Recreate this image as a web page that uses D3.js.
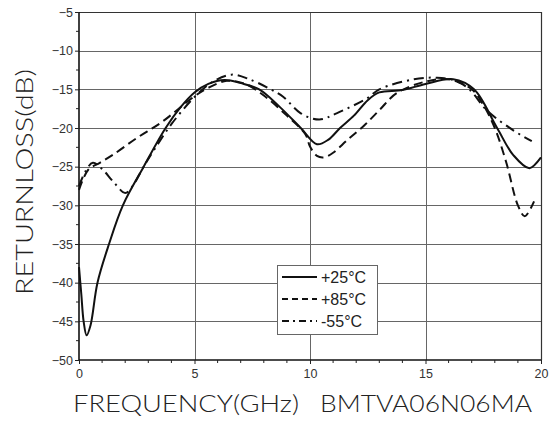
<!DOCTYPE html>
<html>
<head>
<meta charset="utf-8">
<script src="https://cdn.jsdelivr.net/npm/d3@7"></script>
<style>
  html, body { margin: 0; padding: 0; background: #fff; }
  svg { display: block; }
</style>
</head>
<body>
<svg id="chart" width="558" height="430"></svg>
<script>
// Return loss vs frequency at three temperatures
const freq25 = [0, 0.1, 0.2, 0.33, 0.5, 0.8, 1.3, 1.9, 2.8, 3.75, 4.4, 5, 5.6, 6.3, 7, 7.8, 8.7, 9.6, 10.3, 10.8, 11.3, 11.9, 12.5, 13, 14, 15, 16.2, 17.1, 18.1, 18.8, 19.5, 20];
const rl25   = [-38, -41.5, -45, -46.8, -45.5, -40, -35, -30, -25, -20, -17.3, -15.4, -14.3, -13.8, -14.2, -15, -17.3, -20, -22.1, -21.5, -20, -18.4, -16.4, -15.4, -15.1, -14.3, -13.7, -15, -20, -23.5, -25.2, -23.8];

const freq85 = [0, 0.4, 0.9, 1.5, 2.5, 3.6, 4.95, 5.6, 6.4, 7.2, 8, 9, 9.8, 10, 10.3, 10.6, 11, 11.6, 12.3, 13, 13.75, 15, 16, 17, 17.5, 18, 18.5, 19, 19.3, 19.7];
const rl85   = [-28, -25.4, -24.5, -23.4, -21.3, -19.2, -16, -14.8, -13.9, -14.3, -15.8, -18.4, -20.8, -22.4, -23.6, -23.8, -23.2, -21.6, -19.8, -17.7, -15.5, -14.0, -13.7, -15, -17, -20, -24.5, -30, -31.4, -29.5];

const freq55 = [0, 0.3, 0.6, 1.0, 1.5, 2.0, 2.3, 2.8, 3.3, 4, 5, 5.8, 6.6, 7.3, 8.3, 8.85, 9.6, 10.4, 11.15, 12.5, 13, 14.5, 15.5, 16.3, 16.9, 17.65, 18.8, 19.6];
const rl55   = [-27.5, -25.5, -24.5, -25.3, -27, -28.4, -27.6, -25, -22.6, -19.5, -16, -14, -13.1, -13.6, -15, -16, -18.1, -18.9, -18.1, -16.1, -15, -13.7, -13.5, -13.9, -15, -17.7, -20.3, -21.7];

const legendLabels = ["+25°C", "+85°C", "-55°C"];
const xTicks = [0, 5, 10, 15, 20];
const yTicks = [-5, -10, -15, -20, -25, -30, -35, -40, -45, -50];

const svg = d3.select("#chart");
const mLeft = 79, mRight = 541, mTop = 12, mBottom = 360;

const x = d3.scaleLinear().domain([0, 20]).range([mLeft, mRight]);
const y = d3.scaleLinear().domain([-50, -5]).range([mBottom, mTop]);

// grid
const grid = svg.append("g").attr("stroke", "#666").attr("stroke-width", 1);
grid.selectAll("line.v").data(xTicks.filter(d => d > 0 && d < 20)).join("line")
  .attr("x1", d => Math.round(x(d)) + 0.5).attr("x2", d => Math.round(x(d)) + 0.5)
  .attr("y1", mTop).attr("y2", mBottom);
grid.selectAll("line.h").data(yTicks.filter(d => d > -50 && d < -5)).join("line")
  .attr("y1", d => Math.round(y(d)) + 0.5).attr("y2", d => Math.round(y(d)) + 0.5)
  .attr("x1", mLeft).attr("x2", mRight);

// frame (top and right)
svg.append("path")
  .attr("d", `M${mLeft},${mTop + 0.5}H${mRight + 0.5}V${mBottom}`)
  .attr("fill", "none").attr("stroke", "#333").attr("stroke-width", 1.2);

// axes
const xAxis = d3.axisBottom(x).tickValues(xTicks).tickSize(4).tickPadding(5).tickFormat(d3.format("d"));
const yAxis = d3.axisLeft(y).tickValues(yTicks).tickSize(4).tickPadding(2).tickFormat(d3.format("d"));

const gx = svg.append("g").attr("transform", `translate(0,${mBottom})`).call(xAxis);
const gy = svg.append("g").attr("transform", `translate(${mLeft},0)`).call(yAxis);

// minor ticks
const xMinor = d3.range(1, 20).filter(d => d % 5 !== 0);
gx.selectAll("line.minor").data(xMinor).join("line").attr("class", "minor")
  .attr("x1", d => x(d)).attr("x2", d => x(d)).attr("y1", 0).attr("y2", 3)
  .attr("stroke", "#222");
const yMinor = d3.range(-47.5, -5, 5);
gy.selectAll("line.minor").data(yMinor).join("line").attr("class", "minor")
  .attr("y1", d => y(d)).attr("y2", d => y(d)).attr("x1", 0).attr("x2", -3)
  .attr("stroke", "#222");

[gx, gy].forEach(g => {
  g.select(".domain").attr("stroke", "#111").attr("stroke-width", 1.6);
  g.selectAll(".tick line").attr("stroke", "#222");
  g.selectAll("text").attr("font-family", "'Liberation Sans', Arial, sans-serif")
    .attr("font-size", 12.5).attr("fill", "#333");
});
gy.select(".domain").attr("d", `M0,${mTop}V${mBottom}`);
gx.select(".domain").attr("d", `M${mLeft},0H${mRight}`);

// curves
const line = d3.line().x(d => x(d[0])).y(d => y(d[1])).curve(d3.curveCatmullRom.alpha(0.5));
const series = [
  { f: freq25, v: rl25, dash: null },
  { f: freq85, v: rl85, dash: "9,5" },
  { f: freq55, v: rl55, dash: "10,5,2,5" }
];
const curves = svg.append("g");
series.forEach(s => {
  curves.append("path")
    .datum(s.f.map((f, i) => [f, s.v[i]]))
    .attr("d", line)
    .attr("fill", "none")
    .attr("stroke", "#111")
    .attr("stroke-width", 2)
    .attr("stroke-linejoin", "round")
    .attr("stroke-dasharray", s.dash);
});

// legend
const lg = svg.append("g");
lg.append("rect").attr("x", 277.5).attr("y", 265.5).attr("width", 100).attr("height", 69)
  .attr("fill", "#fff").attr("stroke", "#666").attr("stroke-width", 1);
const legendDash = [null, "6,4", "7,4,2,4"];
legendLabels.forEach((lab, i) => {
  const yy = 277 + i * 22;
  lg.append("line").attr("x1", 282).attr("x2", 317).attr("y1", yy).attr("y2", yy)
    .attr("stroke", "#111").attr("stroke-width", 2).attr("stroke-dasharray", legendDash[i]);
  lg.append("text").attr("x", 321).attr("y", yy + 6).text(lab)
    .attr("font-family", "'Liberation Sans', Arial, sans-serif").attr("font-size", 16)
    .attr("fill", "#222");
});

// axis titles
const titleFont = "Lato, 'DejaVu Sans', sans-serif";
svg.append("text")
  .attr("transform", "translate(33,182) rotate(-90)")
  .attr("text-anchor", "middle")
  .attr("font-family", titleFont).attr("font-size", 24).attr("font-weight", 300)
  .attr("fill", "#222")
  .attr("textLength", 226).attr("lengthAdjust", "spacingAndGlyphs")
  .text("RETURNLOSS(dB)");
svg.append("text")
  .attr("x", 73).attr("y", 412)
  .attr("font-family", titleFont).attr("font-size", 24).attr("font-weight", 300)
  .attr("fill", "#222")
  .attr("textLength", 226).attr("lengthAdjust", "spacingAndGlyphs")
  .text("FREQUENCY(GHz)");
svg.append("text")
  .attr("x", 320).attr("y", 412)
  .attr("font-family", titleFont).attr("font-size", 24).attr("font-weight", 300)
  .attr("fill", "#222")
  .attr("textLength", 212).attr("lengthAdjust", "spacingAndGlyphs")
  .text("BMTVA06N06MA");
</script>
</body>
</html>
